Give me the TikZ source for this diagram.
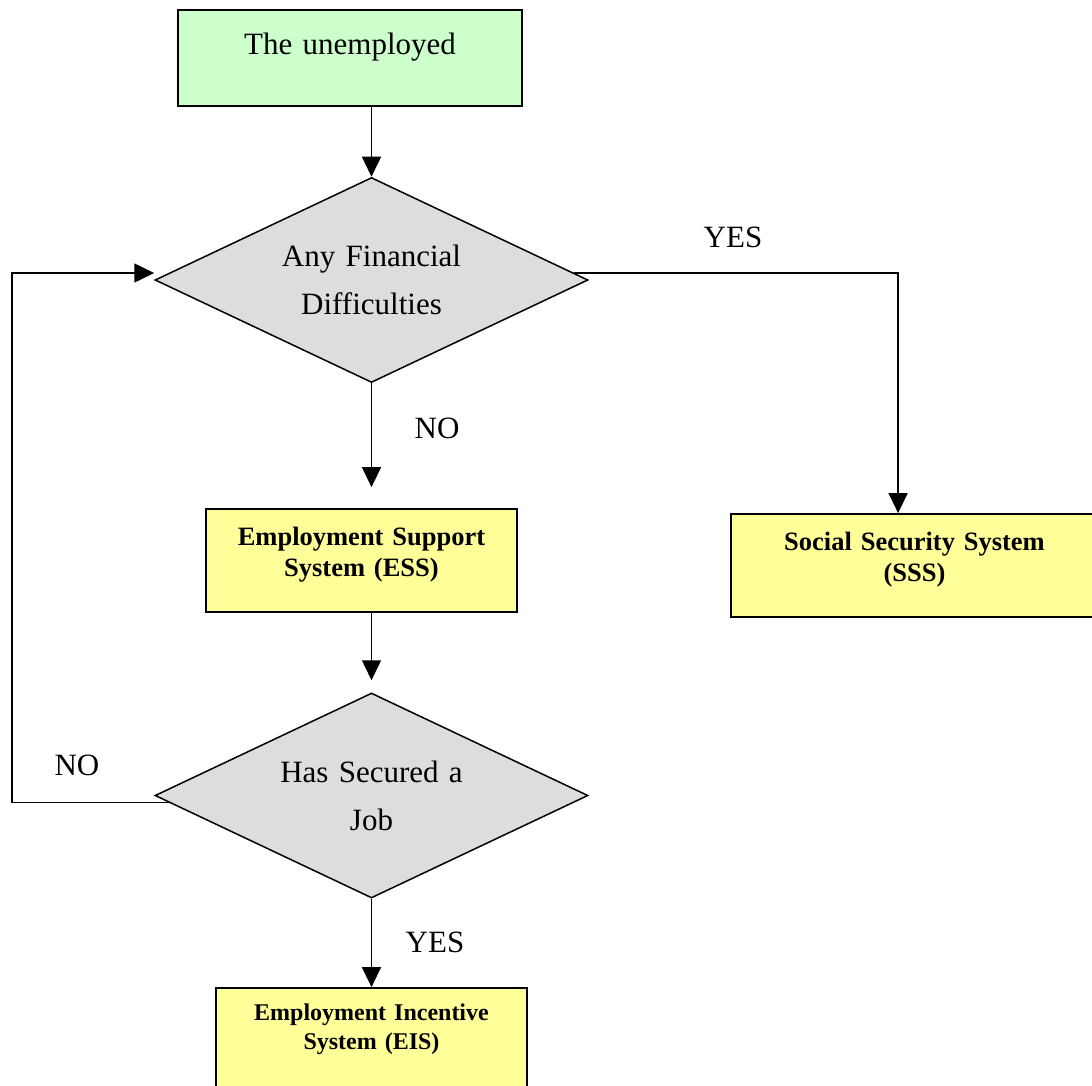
\documentclass[tikz,border=0pt]{standalone}
\usepackage{fontspec}
\setmainfont{Liberation Serif}
\usepackage{tikz}
\usetikzlibrary{shapes, arrows.meta, positioning}
\definecolor{startgreen}{HTML}{CCFFCC}
\definecolor{sysyellow}{HTML}{FFFF99}
\definecolor{askgrey}{HTML}{DDDDDD}
\tikzstyle{line} = [draw, -{Triangle[length=20pt,width=19pt]}, line width=1.5pt]
\tikzstyle{start} = [rectangle, draw, fill=startgreen, line width=1.8pt,
  minimum width=344pt, minimum height=96pt, text width=320pt, align=center,
  inner sep=2pt, font=\fontsize{31}{36}\selectfont, text height=22pt, text depth=28pt]
\tikzstyle{system} = [rectangle, draw, fill=sysyellow, line width=1.8pt,
  minimum width=311pt, minimum height=103pt, text width=290pt, align=center,
  inner sep=2pt, font=\fontsize{26.5}{31}\selectfont\bfseries, text height=20pt, text depth=50pt]
\tikzstyle{decision} = [diamond, draw, fill=askgrey, line width=1.5pt, aspect=2.1,
  minimum width=433pt, minimum height=205pt, text width=200pt, align=center,
  inner sep=1pt, font=\fontsize{31}{48}\selectfont]
\tikzstyle{answer} = [font=\fontsize{31}{36}\selectfont, inner sep=0pt]

\begin{document}
\begin{tikzpicture}[x=1pt, y=-1pt]
    \useasboundingbox (0,0) rectangle (1092,1086);
    \clip (0,0) rectangle (1092,1086);

    \node [start] (unemployed) at (350,58) {The unemployed};
    \node [decision] (financial) at (371.5,280) {Any Financial\\Difficulties};
    \node [system] (ess) at (361.5,560.5) {Employment Support\\System (ESS)};
    \node [system, minimum width=367pt, text width=340pt] (sss) at (914.5,565.5) {Social Security System\\(SSS)};
    \node [decision] (job) at (371.5,795.5) {Has Secured a\\Job};
    \node [system, font=\fontsize{24}{29}\selectfont\bfseries,
      text height=18pt, text depth=56pt] (eis) at (371.5,1039.5) {Employment Incentive\\System (EIS)};

    \node [answer] (yes-sss) at (733,237) {YES};
    \node [answer] (no-ess) at (437,428) {NO};
    \node [answer] (no-loop) at (77,765) {NO};
    \node [answer] (yes-eis) at (435,942) {YES};

    \coordinate (loopx) at (12,0);

    \path [line] (unemployed.south -| financial.north) -- (financial.north);
    \path [line] (financial.2) -| ([xshift=168pt]sss.north west);
    \path [line, shorten >=21pt] (financial.south) -- (financial.south |- ess.north);
    \path [line, shorten >=12pt] (ess.south -| job.north) -- (job.north);
    \path [line] (job.south) -- (job.south |- eis.north);
    \path [line] (job.182) -- (job.182 -| loopx) |- ([yshift=7pt]financial.west);

\end{tikzpicture}
\end{document}
